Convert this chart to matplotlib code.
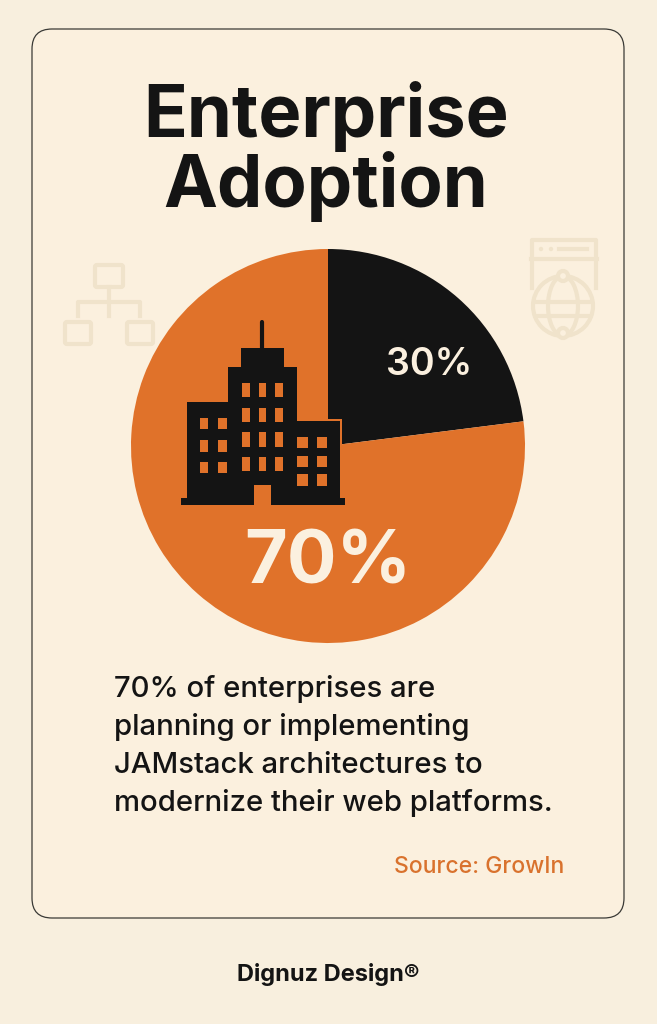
import matplotlib.pyplot as plt
from matplotlib.patches import FancyBboxPatch, Rectangle, Circle, Ellipse

# Chart data
categories = ['Not planning', 'Planning or implementing']
printed_labels = ['30%', '70%']
# the drawn slices do not follow the printed labels, these are read from the picture
drawn_shares = [23, 77]

title_lines = ['Enterprise', 'Adoption']
body_lines = [
    '70% of enterprises are',
    'planning or implementing',
    'JAMstack architectures to',
    'modernize their web platforms.',
]
source_text = 'Source: GrowIn'
footer_text = 'Dignuz Design®'

PAGE = '#F8EFDE'
BG = '#FBF0DE'
ORANGE = '#E0722A'
DARK = '#141414'
ICON = '#F0E3CB'
CREAM = '#FBF0DF'

plt.rcParams['font.family'] = ['Inter', 'DejaVu Sans']


def box(ax, x0, y0, x1, y1, **kw):
    ax.add_patch(Rectangle((x0, y0), x1 - x0, y1 - y0, **kw))


def draw_building(ax):
    # Body of the building
    parts = [
        (187, 402, 228, 502), (228, 367, 297, 502), (241, 348, 284, 367),
        (297, 421, 340, 502), (181, 498, 345, 505),
    ]
    box(ax, 296, 419, 342, 445, fc=ORANGE, ec='none', zorder=3)
    for x0, y0, x1, y1 in parts:
        box(ax, x0, y0, x1, y1, fc=DARK, ec='none', zorder=4)
    ax.plot([262, 262], [322, 348], color=DARK, lw=3, solid_capstyle='round', zorder=4)
    box(ax, 254, 485, 271, 506, fc=ORANGE, ec='none', zorder=5)

    # Windows
    for x0, x1 in [(242, 250), (259, 266), (275, 283)]:
        for y0, y1 in [(383, 397), (408, 422), (432, 447), (457, 471)]:
            box(ax, x0, y0, x1, y1, fc=ORANGE, ec='none', zorder=5)
    for x0, x1 in [(200, 208), (218, 227)]:
        for y0, y1 in [(418, 429), (440, 452), (462, 473)]:
            box(ax, x0, y0, x1, y1, fc=ORANGE, ec='none', zorder=5)
    for x0, x1 in [(297, 308), (317, 327)]:
        for y0, y1 in [(437, 448), (456, 467), (474, 486)]:
            box(ax, x0, y0, x1, y1, fc=ORANGE, ec='none', zorder=5)


def draw_org_icon(ax):
    style = dict(fc='none', ec=ICON, lw=3, zorder=1)
    ax.add_patch(FancyBboxPatch((95, 265), 28, 22, boxstyle='round,pad=0,rounding_size=2', **style))
    ax.add_patch(FancyBboxPatch((65, 322), 26, 22, boxstyle='round,pad=0,rounding_size=2', **style))
    ax.add_patch(FancyBboxPatch((127, 322), 26, 22, boxstyle='round,pad=0,rounding_size=2', **style))
    ax.plot([109, 109], [287, 316], color=ICON, lw=3, zorder=1)
    ax.plot([78, 78, 140, 140], [316, 302, 302, 316], color=ICON, lw=3, zorder=1)


def draw_globe_icon(ax):
    ax.plot([532, 532, 596, 596], [288, 240, 240, 288], color=ICON, lw=3, zorder=1)
    ax.plot([531, 597], [259, 259], color=ICON, lw=3, zorder=1)
    ax.plot([559, 587], [249, 249], color=ICON, lw=3, zorder=1)
    for cx in [541, 551]:
        ax.add_patch(Circle((cx, 249), 2.2, fc=ICON, ec='none', zorder=1))
    ax.add_patch(Circle((563, 306), 30, fc=BG, ec=ICON, lw=3, zorder=1))
    ax.add_patch(Ellipse((563, 306), 30, 60, fc='none', ec=ICON, lw=3, zorder=1))
    ax.plot([534, 592], [302, 302], color=ICON, lw=3, zorder=1)
    ax.plot([536, 590], [316, 316], color=ICON, lw=3, zorder=1)
    for cy in [276, 333]:
        ax.add_patch(Circle((563, cy), 5, fc=BG, ec=ICON, lw=3, zorder=1))


fig = plt.figure(figsize=(6.57, 10.24), dpi=100, facecolor=PAGE)
ax = fig.add_axes([0, 0, 1, 1])

# Card
ax.add_patch(FancyBboxPatch((32, 29), 592, 889, boxstyle='round,pad=0,rounding_size=20',
                            fc=BG, ec='#3a3a36', lw=0.9, zorder=0))

draw_org_icon(ax)
draw_globe_icon(ax)

# y runs downwards here, so counterclock in data is clockwise on screen
wedges, _ = ax.pie(drawn_shares, colors=[DARK, ORANGE], startangle=-90, counterclock=True,
                   center=(328, 446), radius=197, frame=True,
                   wedgeprops=dict(linewidth=0, zorder=2))

ax.set_xlim(0, 657)
ax.set_ylim(1024, 0)
ax.axis('off')

draw_building(ax)

# Text
for line, y in zip(title_lines, [137, 207]):
    ax.text(326, y, line, ha='center', va='baseline', fontsize=52, fontweight='bold', color=DARK)

ax.text(429, 375, printed_labels[0], ha='center', va='baseline', fontsize=27,
        fontweight='semibold', color=CREAM, zorder=6)
ax.text(328, 583, printed_labels[1], ha='center', va='baseline', fontsize=53,
        fontweight='bold', color=CREAM, zorder=6)

for line, y in zip(body_lines, [697, 735, 773, 811]):
    ax.text(114, y, line, ha='left', va='baseline', fontsize=21.1, fontweight='medium', color=DARK)

ax.text(564, 873, source_text, ha='right', va='baseline', fontsize=16.5, fontweight='medium', color='#D9722D')
ax.text(328, 981, footer_text, ha='center', va='baseline', fontsize=17, fontweight='bold', color=DARK)

fig.savefig('out.png', dpi=100, facecolor=PAGE)
